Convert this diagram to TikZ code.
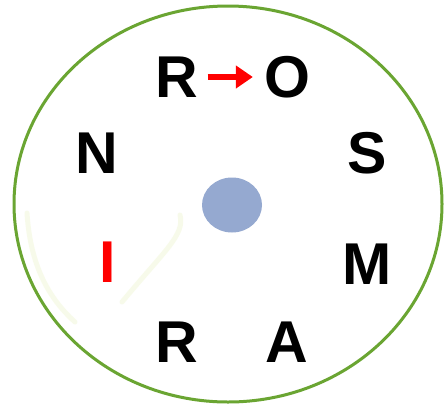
\documentclass[tikz,border=0pt]{standalone}
\usepackage{fontspec}
\setmainfont{Liberation Sans}
\usetikzlibrary{arrows.meta}
\definecolor{ringgreen}{HTML}{6AA532}
\definecolor{dotblue}{HTML}{95A9D0}
\definecolor{glow}{HTML}{EEF6D2}
\begin{document}
\begin{tikzpicture}[x=1pt,y=-1pt,
  letter/.style={inner sep=0pt,font=\fontsize{59}{59}\selectfont\bfseries},
  redletter/.style={letter,text=red}]
\useasboundingbox (0,0) rectangle (444,405);
\fill[white] (0,0) rectangle (444,405);
% faint glow
\draw[glow,line width=5pt,line cap=round,opacity=0.45] (27,213) .. controls (30,260) and (45,295) .. (75,322);
\draw[glow,line width=5pt,line cap=round,opacity=0.45] (180,215) .. controls (185,235) and (165,250) .. (122,302);
% ring
\draw[ringgreen,line width=3pt] (228,204) ellipse [x radius=214, y radius=198];
% dot
\fill[dotblue] (232,205) ellipse [x radius=30, y radius=27.5];
% letters
\node[letter] (R1) at (177,77) {R};
\node[letter] (O) at (287,77) {O};
\node[letter] (N) at (97,153) {N};
\node[letter] (S) at (367,153) {S};
\node[redletter] (I) at (108,262) {I};
\node[letter] (M) at (367,264) {M};
\node[letter] (R2) at (177,342) {R};
\node[letter] (A) at (287,342) {A};
\draw[red,line width=6pt,-{Triangle[length=17pt,width=22pt]},shorten <=9pt,shorten >=11pt] (R1.east) -- (O.west);
\end{tikzpicture}
\end{document}
